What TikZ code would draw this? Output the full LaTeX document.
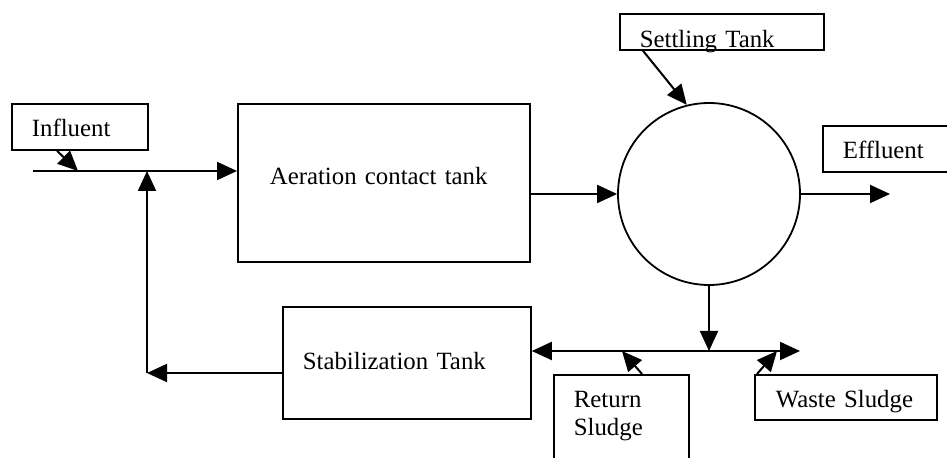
\documentclass[tikz,border=0pt]{standalone}
\usepackage{fontspec}
\setmainfont{Liberation Serif}
\usetikzlibrary{arrows.meta}

\tikzset{
  box/.style = {draw, line width=0.9pt, anchor=north west, align=left, inner xsep=10pt, inner ysep=0pt},
  arr/.style = {line width=1pt, -{Triangle[length=10pt,width=9pt]}}
}

\begin{document}
\begin{tikzpicture}[x=0.5pt, y=-0.5pt, font=\fontsize{12.4}{14}\selectfont]
\path[use as bounding box, clip] (0,0) rectangle (947,458);

\node[box, text width=48pt, text height=16.5pt, text depth=6.5pt] at (11,103) (infl) {Influent};
\node[box, inner xsep=16pt, text width=114pt, text height=40.5pt, text depth=38.5pt] at (237,103) (aer) {Aeration contact tank};
\node[box, text width=82pt, text height=17pt, text depth=1pt] at (619,13) (settle) {Settling Tank};
\node[box, text width=65pt, text height=16.5pt, text depth=6.5pt] at (822,125) (eff) {Effluent};
\node[box, text width=104pt, text height=31.5pt, text depth=24.5pt] at (282,306) (stab) {Stabilization Tank};
\node[box, text width=47.5pt, text height=16.5pt, text depth=33.5pt] at (553,374) (ret) {Return\\Sludge};
\node[box, inner xsep=10.5pt, text width=70pt, text height=16.5pt, text depth=6pt] at (754,374) (waste) {Waste Sludge};
\node[draw, circle, line width=0.9pt, minimum size=91pt, inner sep=0pt] at (709,194) (sett) {};

\coordinate (in) at (33,171);
\coordinate (infl-in) at (78,171);
\coordinate (join) at (147,171);
\coordinate (corner) at (147,373);
\coordinate (out) at (890,194);
\coordinate (split) at (709,351);
\coordinate (ret-in) at (622,351);
\coordinate (waste-out) at (777,351);
\coordinate (waste-end) at (800,351);

% main line
\draw[arr] (in) -- (in -| aer.west);
\draw[arr] ([xshift=23pt]infl.south west) -- (infl-in);
\draw[arr] (sett.west -| aer.east) -- (sett.west);
\draw[arr] (sett.east) -- (out);
\draw[arr] ([xshift=12pt]settle.south west) -- (sett.104);

% sludge line
\draw[arr] (sett.south) -- (split);
\draw[arr] (split) -- (split -| stab.east);
\draw[arr] (split) -- (waste-end);
\draw[arr] ([xshift=44.5pt]ret.north west) -- (ret-in);
\draw[arr] ([xshift=1.5pt]waste.north west) -- (waste-out);

% return to the inlet
\draw[arr] (corner -| stab.west) -- (corner);
\draw[arr] (corner) -- (join);

\end{tikzpicture}
\end{document}
